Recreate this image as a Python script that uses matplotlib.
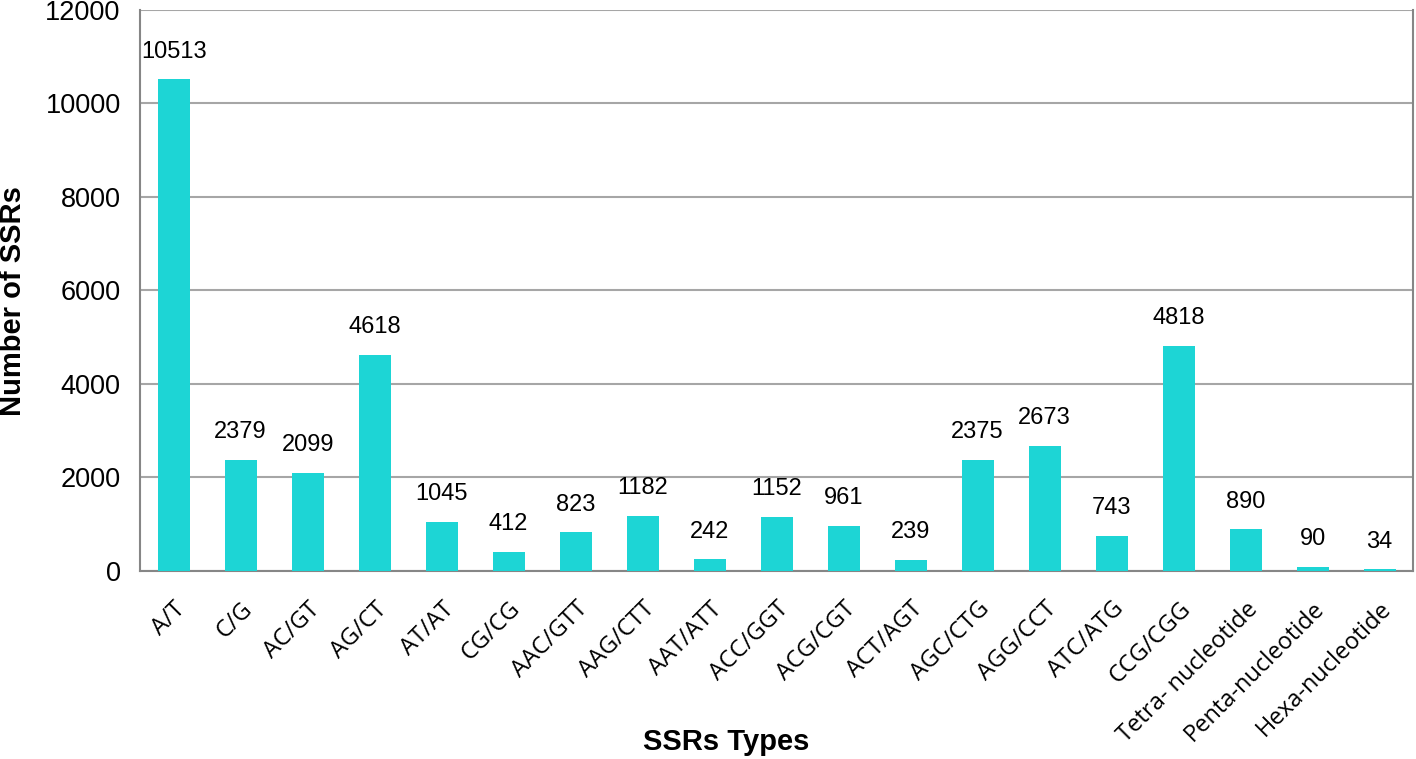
import numpy as np
import matplotlib
matplotlib.use("Agg")
import matplotlib.pyplot as plt

plt.rcParams["font.family"] = ["Liberation Sans", "DejaVu Sans"]

# SSR motif types and their counts
ssr_types = [
    "A/T", "C/G", "AC/GT", "AG/CT", "AT/AT", "CG/CG", "AAC/GTT", "AAG/CTT",
    "AAT/ATT", "ACC/GGT", "ACG/CGT", "ACT/AGT", "AGC/CTG", "AGG/CCT",
    "ATC/ATG", "CCG/CGG", "Tetra- nucleotide", "Penta-nucleotide",
    "Hexa-nucleotide",
]
counts = [
    10513, 2379, 2099, 4618, 1045, 412, 823, 1182, 242, 1152, 961, 239,
    2375, 2673, 743, 4818, 890, 90, 34,
]
y_ticks = [0, 2000, 4000, 6000, 8000, 10000, 12000]

BAR_COLOR = "#1dd5d5"
SPINE_COLOR = "#868686"

fig, ax = plt.subplots(figsize=(14.16, 7.59), dpi=100)
fig.subplots_adjust(left=0.099, right=0.998, top=0.987, bottom=0.248)

x = np.arange(len(ssr_types))
bars = ax.bar(x, counts, width=0.48, color=BAR_COLOR, zorder=3)

for xi, v in zip(x, counts):
    ax.annotate(f"{v}", (xi, v), xytext=(0, 12), textcoords="offset points",
                ha="center", va="bottom", fontsize=17)

ax.set_xlim(-0.5, len(ssr_types) - 0.5)
ax.set_ylim(0, 12000)
ax.set_yticks(y_ticks)
ax.set_yticklabels([str(t) for t in y_ticks], fontsize=19.5)
ax.set_xticks(x)
ax.set_xticklabels(ssr_types, rotation=45, ha="right", rotation_mode="anchor",
                   fontsize=17, family=["Open Sans", "DejaVu Sans"])
ax.tick_params(axis="y", length=0, pad=14)
ax.tick_params(axis="x", length=0, pad=19)

ax.yaxis.grid(True, color="#a6a6a6", linewidth=1.5, zorder=0)
for side in ["left", "right", "bottom", "top"]:
    ax.spines[side].set_color(SPINE_COLOR)
    ax.spines[side].set_linewidth(1.5)
ax.spines["top"].set_visible(False)

ax.set_ylabel("Number of SSRs", fontsize=21, fontweight="bold")
ax.yaxis.set_label_coords(-0.089, 0.48)
ax.set_xlabel("SSRs Types", fontsize=21, fontweight="bold")
ax.xaxis.set_label_coords(0.46, -0.28)

fig.savefig("out.png", dpi=100)
